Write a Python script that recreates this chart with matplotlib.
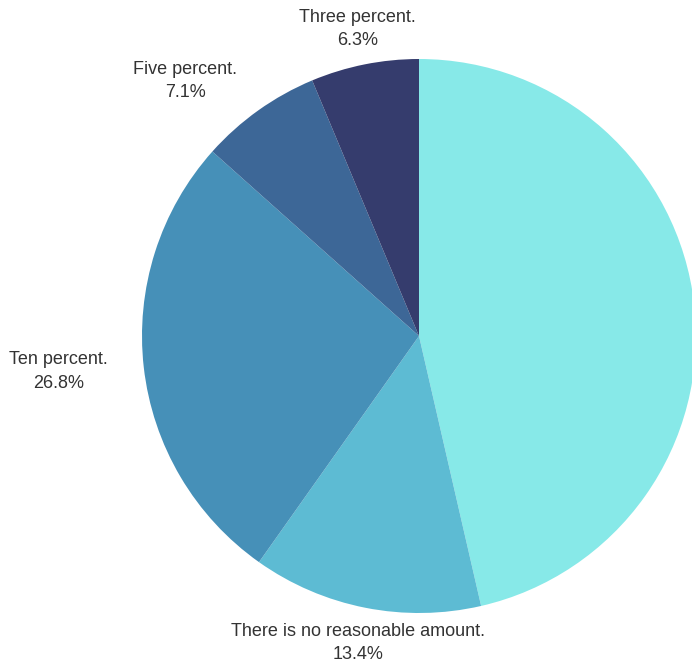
import numpy as np
import matplotlib.pyplot as plt

# slices, clockwise from 12 o'clock
labels = ["", "There is no reasonable amount.", "Ten percent.", "Five percent.", "Three percent."]
shares = [46.4, 13.4, 26.8, 7.1, 6.3]
colors = ["#87E9E8", "#5DBBD3", "#4690B8", "#3D6797", "#353C6D"]

W, H = 692, 669
cx, cy, r = 419, H - 336, 277
label_gap = 36

fig = plt.figure(figsize=(W / 100, H / 100), dpi=100)
ax = fig.add_axes([0, 0, 1, 1])

wedges, _ = ax.pie(shares, colors=colors, startangle=90, counterclock=False,
                   center=(cx, cy), radius=r, frame=True,
                   wedgeprops=dict(linewidth=0))
ax.set_xlim(0, W)
ax.set_ylim(0, H)
ax.set_aspect("equal")
ax.axis("off")

# labels sit just outside the rim on each slice's mid angle
for w, lab, val in zip(wedges, labels, shares):
    if not lab:
        continue
    ang = np.deg2rad((w.theta1 + w.theta2) / 2)
    c, s = np.cos(ang), np.sin(ang)
    x = cx + (r + label_gap) * c
    y = cy + (r + label_gap) * s
    ha = "right" if c < -0.3 else ("left" if c > 0.3 else "center")
    ax.text(x, y, f"{lab}\n{val}%", ha=ha, va="center", multialignment="center",
            fontsize=13, family="Liberation Sans", color="#333333", linespacing=1.5)

fig.savefig("out.png", dpi=100)
